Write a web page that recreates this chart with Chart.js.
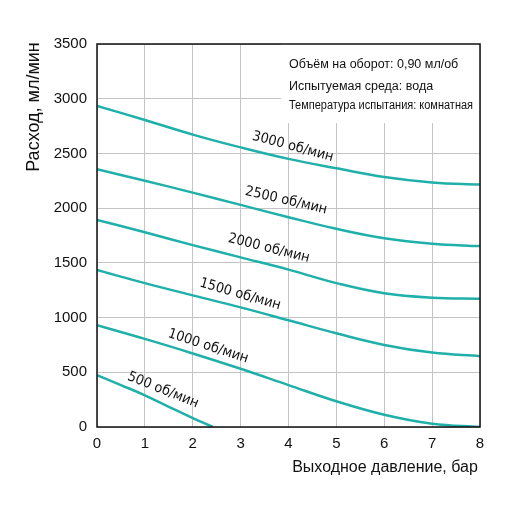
<!DOCTYPE html>
<html>
<head>
<meta charset="utf-8">
<script src="https://cdn.jsdelivr.net/npm/chart.js@4"></script>
<style>
  html, body { margin: 0; padding: 0; background: #fff; }
  #wrap { width: 512px; height: 512px; }
</style>
</head>
<body>
<div id="wrap"><canvas id="grafico" width="512" height="512"></canvas></div>
<script>
// Давление, бар
const pressure = [0, 1, 2, 3, 4, 5, 6, 7, 8];
const pressure500 = [0, 0.5, 1, 1.5, 2, 2.42];

// Расход, мл/мин
const flow3000 = [2935, 2805, 2672, 2555, 2450, 2365, 2285, 2235, 2215];
const flow2500 = [2355, 2250, 2142, 2030, 1917, 1811, 1725, 1675, 1653];
const flow2000 = [1893, 1780, 1662, 1550, 1438, 1315, 1222, 1182, 1173];
const flow1500 = [1435, 1315, 1203, 1093, 975, 856, 750, 680, 647];
const flow1000 = [930, 805, 672, 532, 383, 235, 112, 30, 0];
const flow500 = [474, 383, 290, 185, 82, 0];

const speedLabels = ['3000 об/мин', '2500 об/мин', '2000 об/мин', '1500 об/мин', '1000 об/мин', '500 об/мин'];
const yTicks = [0, 500, 1000, 1500, 2000, 2500, 3000, 3500];
const xTicks = [0, 1, 2, 3, 4, 5, 6, 7, 8];

const infoLines = ['Объём на оборот: 0,90 мл/об', 'Испытуемая среда: вода', 'Температура испытания: комнатная'];

const teal = '#1fb0aa';

function pontos(xs, ys) {
  return xs.map((x, i) => ({ x, y: ys[i] }));
}

const series = [
  pontos(pressure, flow3000),
  pontos(pressure, flow2500),
  pontos(pressure, flow2000),
  pontos(pressure, flow1500),
  pontos(pressure, flow1000),
  pontos(pressure500, flow500)
];

// posição dos rótulos das curvas (valores de dados) e ângulo
const labelPos = [
  { x: 4.09, y: 2561, rot: 15 },
  { x: 3.95, y: 2069, rot: 13 },
  { x: 3.59, y: 1632, rot: 14 },
  { x: 2.99, y: 1212, rot: 16 },
  { x: 2.32, y: 738, rot: 18 },
  { x: 1.38, y: 337, rot: 22 }
];

const decor = {
  id: 'decor',
  beforeDatasetsDraw(chart) {
    const { ctx, chartArea: a } = chart;
    // caixa de informações
    ctx.save();
    ctx.fillStyle = '#fff';
    ctx.fillRect(281, a.top, a.right - 281, 123 - a.top);
    ctx.fillStyle = '#111';
    ctx.font = '12.5px "Liberation Sans", Arial, sans-serif';
    ctx.textBaseline = 'middle';
    ctx.fillText(infoLines[0], 289, 65);
    ctx.fillText(infoLines[1], 289, 87);
    ctx.font = '12px "Liberation Sans Narrow", "Liberation Sans", Arial, sans-serif';
    const w = ctx.measureText(infoLines[2]).width;
    ctx.translate(289, 106);
    ctx.scale(Math.min(1, 184 / w), 1);
    ctx.fillText(infoLines[2], 0, 0);
    ctx.restore();
  },
  afterDraw(chart) {
    const { ctx, chartArea: a, scales } = chart;
    ctx.save();
    // moldura
    ctx.strokeStyle = '#111';
    ctx.lineWidth = 1.5;
    ctx.strokeRect(a.left, a.top, a.right - a.left, a.bottom - a.top);
    // rótulos das curvas
    ctx.fillStyle = '#111';
    ctx.font = '14px "DejaVu Sans", sans-serif';
    ctx.textAlign = 'center';
    ctx.textBaseline = 'middle';
    labelPos.forEach((p, i) => {
      ctx.save();
      ctx.translate(scales.x.getPixelForValue(p.x), scales.y.getPixelForValue(p.y));
      ctx.rotate(p.rot * Math.PI / 180);
      ctx.scale(0.92, 1);
      ctx.fillText(speedLabels[i], 0, 0);
      ctx.restore();
    });
    // títulos dos eixos
    ctx.font = '18px "Liberation Sans", Arial, sans-serif';
    ctx.save();
    ctx.translate(34, 107);
    ctx.rotate(-Math.PI / 2);
    ctx.fillText('Расход, мл/мин', 0, 0);
    ctx.restore();
    ctx.font = '16px "Liberation Sans", Arial, sans-serif';
    ctx.fillText('Выходное давление, бар', 385, 468);
    ctx.restore();
  }
};

new Chart(document.getElementById('grafico').getContext('2d'), {
  type: 'line',
  data: {
    datasets: series.map((d, i) => ({
      label: speedLabels[i],
      data: d,
      borderColor: teal,
      borderWidth: 2.5,
      pointRadius: 0,
      fill: false,
      tension: 0.4
    }))
  },
  options: {
    responsive: false,
    animation: false,
    layout: { padding: { left: 0, right: 32, top: 44, bottom: 0 } },
    plugins: {
      legend: { display: false },
      tooltip: { enabled: false }
    },
    scales: {
      x: {
        type: 'linear',
        min: 0,
        max: 8,
        afterFit(s) { s.height = 85; },
        afterBuildTicks(s) { s.ticks = xTicks.map(v => ({ value: v })); },
        ticks: {
          color: '#111',
          font: { size: 15, family: '"Liberation Sans", Arial, sans-serif' },
          padding: 8,
          maxRotation: 0
        },
        grid: { color: '#c4c4c4', lineWidth: 1, drawTicks: false },
        border: { display: false }
      },
      y: {
        min: 0,
        max: 3500,
        afterFit(s) { s.width = 97; },
        afterBuildTicks(s) { s.ticks = yTicks.map(v => ({ value: v })); },
        ticks: {
          color: '#111',
          font: { size: 15, family: '"Liberation Sans", Arial, sans-serif' },
          padding: 10,
          callback: v => String(v)
        },
        grid: { color: '#c4c4c4', lineWidth: 1, drawTicks: false },
        border: { display: false }
      }
    }
  },
  plugins: [decor]
});
</script>
</body>
</html>
